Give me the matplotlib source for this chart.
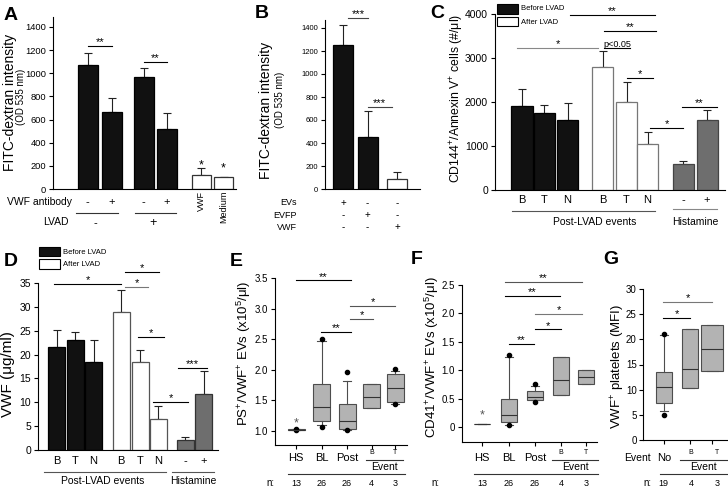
import numpy as np
import matplotlib

matplotlib.use("Agg")
import matplotlib.pyplot as plt
from matplotlib.lines import Line2D
from matplotlib.patches import Rectangle

plt.rcParams["font.family"] = ["Liberation Sans", "DejaVu Sans"]
plt.rcParams["mathtext.fontset"] = "custom"
plt.rcParams["mathtext.rm"] = "Liberation Sans"
plt.rcParams["mathtext.it"] = "Liberation Sans:italic"
plt.rcParams["mathtext.bf"] = "Liberation Sans:bold"
plt.rcParams["axes.linewidth"] = 0.8

# ---------- data ----------
# A: FITC-dextran, VWF antibody -/+ for LVAD -/+, then VWF and medium
a_mean = [1075, 665, 965, 520, 120, 100]
a_err = [100, 125, 85, 135, 60, 0]

# B: EVs / EVFP / VWF
b_mean = [1255, 450, 85]
b_err = [175, 230, 60]

# C: CD144+/Annexin V+ cells
c_events = ["B", "T", "N"]
c_before = [1900, 1750, 1590]
c_before_err = [390, 180, 385]
c_after = [2790, 2000, 1040]
c_after_err = [370, 450, 270]
c_hist = [590, 1600]
c_hist_err = [60, 210]

# D: VWF (ug/ml)
d_before = [21.5, 23.0, 18.4]
d_before_err = [3.6, 1.7, 4.7]
d_after = [29.0, 18.4, 6.6]
d_after_err = [4.5, 2.6, 2.6]
d_hist = [2.0, 11.8]
d_hist_err = [0.7, 4.8]

# E: PS+/VWF+ EVs  (HS, BL, Post, Event B, Event T)
e_groups = ["HS", "BL", "Post", "B", "T"]
e_n = [13, 26, 26, 4, 3]
e_med = [1.02, 1.40, 1.17, 1.55, 1.71]
e_q1 = [1.015, 1.17, 1.03, 1.37, 1.48]
e_q3 = [1.03, 1.76, 1.44, 1.76, 1.93]
e_lo = [1.015, 1.10, 1.01, 1.37, 1.44]
e_hi = [1.03, 2.47, 1.82, 1.76, 1.98]
e_fliers = [[1.03, 1.01], [2.50, 1.07], [1.97, 1.01], [], [2.01, 1.44]]

# F: CD41+/VWF+ EVs
f_groups = ["HS", "BL", "Post", "B", "T"]
f_n = [13, 26, 26, 4, 3]
f_med = [0.05, 0.22, 0.53, 0.82, 0.88]
f_q1 = [0.05, 0.08, 0.48, 0.57, 0.76]
f_q3 = [0.05, 0.50, 0.64, 1.24, 1.00]
f_lo = [0.05, 0.04, 0.47, 0.57, 0.76]
f_hi = [0.05, 1.23, 0.72, 1.24, 1.00]
f_fliers = [[], [1.27, 0.03], [0.76, 0.44], [], []]

# G: VWF+ platelets (MFI)
g_groups = ["No", "B", "T"]
g_n = [19, 4, 3]
g_med = [10.6, 14.2, 18.0]
g_q1 = [7.4, 10.4, 13.8]
g_q3 = [13.6, 22.1, 22.9]
g_lo = [5.8, 10.4, 13.8]
g_hi = [20.8, 22.1, 22.9]
g_fliers = [[21.0, 4.9], [], []]

# ---------- layout helpers (pixel coords, origin top-left) ----------
W, H = 728, 488
fig = plt.figure(figsize=(W / 100, H / 100), dpi=100)

BLACK = "#111111"
GREY_BAR = "#6e6e6e"
BOX = "#b3b3b3"
EDGE = "#4d4d4d"


def add_ax(x0, x1, ytop, ybot, yref_lo, vref_lo, yref_hi, vref_hi):
    scale = (yref_lo - yref_hi) / (vref_hi - vref_lo)
    vbot = vref_lo - (ybot - yref_lo) / scale
    vtop = vref_hi + (yref_hi - ytop) / scale
    ax = fig.add_axes([x0 / W, 1 - ybot / H, (x1 - x0) / W, (ybot - ytop) / H])
    ax.set_xlim(x0, x1)
    ax.set_ylim(vbot, vtop)
    ax.spines["top"].set_visible(False)
    ax.spines["right"].set_visible(False)
    ax.patch.set_alpha(0)
    ax.tick_params(axis="y", direction="out", length=3, width=0.8, pad=2)
    return ax


def ftext(x, y, s, size=8, ha="center", va="center", **kw):
    fig.text(x / W, 1 - y / H, s, fontsize=size, ha=ha, va=va, **kw)


def fline(x0, x1, y, color="#333333", lw=0.8):
    fig.add_artist(Line2D([x0 / W, x1 / W], [1 - y / H] * 2, color=color, lw=lw))


def frect(x0, y0, x1, y1, fc):
    fig.add_artist(Rectangle((x0 / W, 1 - y1 / H), (x1 - x0) / W, (y1 - y0) / H,
                             transform=fig.transFigure, facecolor=fc,
                             edgecolor="k", lw=0.8))


def sig(ax, x0, x1, y, label, color="k", size=8):
    ax.plot([x0, x1], [y, y], color=color, lw=0.8, clip_on=False)
    ax.annotate(label, ((x0 + x1) / 2, y), xytext=(0, -1), textcoords="offset points",
                ha="center", va="bottom", fontsize=size, annotation_clip=False)


def bars(ax, pos, vals, errs, width, fc, ec):
    ax.errorbar(pos, vals, yerr=[np.zeros(len(errs)), errs], fmt="none",
                ecolor="#222222", elinewidth=0.8, capsize=3, capthick=0.8, zorder=1)
    ax.bar(pos, vals, width=width, color=fc, edgecolor=ec, lw=0.9, zorder=2)


def boxes(ax, pos, widths, med, q1, q3, lo, hi, fliers):
    stats = [dict(med=m, q1=a, q3=b, whislo=l, whishi=h, fliers=f)
             for m, a, b, l, h, f in zip(med, q1, q3, lo, hi, fliers)]
    ax.bxp(stats, positions=pos, widths=widths, capwidths=[w * 0.5 for w in widths],
           patch_artist=True, manage_ticks=False,
           boxprops=dict(facecolor=BOX, edgecolor=EDGE, lw=0.8),
           medianprops=dict(color="#333333", lw=0.8),
           whiskerprops=dict(color=EDGE, lw=0.8),
           capprops=dict(color=EDGE, lw=0.8),
           flierprops=dict(marker="o", markerfacecolor="k", markeredgecolor="k",
                           markersize=3, linestyle="none"))
    ax.set_xticks(pos)
    ax.set_xticklabels([])
    ax.tick_params(axis="x", direction="out", length=3, width=0.8)


# ---------- A ----------
axA = add_ax(53, 236, 17, 189, 189, 0, 27, 1400)
a_pos = [87.5, 112, 143.5, 167, 201, 223.5]
bars(axA, a_pos[:4], a_mean[:4], a_err[:4], 20, BLACK, "k")
bars(axA, a_pos[4:], a_mean[4:], a_err[4:], 19, "white", "#333333")
axA.set_xticks([])
axA.set_yticks(range(0, 1401, 200))
axA.tick_params(axis="y", labelsize=6.7)
sig(axA, a_pos[0], a_pos[1], 1236, "**")
sig(axA, a_pos[2], a_pos[3], 1097, "**")
axA.text(a_pos[4], 205, "*", ha="center", va="center", fontsize=9)
axA.text(a_pos[5], 180, "*", ha="center", va="center", fontsize=9)
ftext(10, 102, "FITC-dextran intensity", size=10, rotation=90)
ftext(21.5, 97, "(OD 535 nm)", size=7, rotation=90)
ftext(72, 202, "VWF antibody", size=7.5, ha="right")
for x, s in zip(a_pos[:4], ["-", "+", "-", "+"]):
    ftext(x, 202, s, size=8)
fline(76, 118, 213)
fline(135, 176, 213)
ftext(69, 222, "LVAD", size=7.5, ha="right")
ftext(95, 223, "-", size=8)
ftext(153, 223, "+", size=9)
ftext(a_pos[4], 191, "VWF", size=6.5, rotation=90, va="top")
ftext(a_pos[5], 191, "Medium", size=6.5, rotation=90, va="top")

# ---------- B ----------
axB = add_ax(325, 420, 20, 189, 189, 0, 28, 1400)
b_pos = [343, 367.5, 397]
bars(axB, b_pos[:2], b_mean[:2], b_err[:2], 20, BLACK, "k")
bars(axB, b_pos[2:], b_mean[2:], b_err[2:], 20, "white", "#333333")
axB.set_xticks([])
axB.set_yticks(range(0, 1401, 200))
axB.tick_params(axis="y", labelsize=5.5)
sig(axB, 348, 368, 1490, "***", color="#444444")
sig(axB, 367.5, 392, 713, "***", color="#444444")
ftext(266, 110, "FITC-dextran intensity", size=10, rotation=90)
ftext(280, 100, "(OD 535 nm)", size=7, rotation=90)
rows = [("EVs", ["+", "-", "-"], 203), ("EVFP", ["-", "+", "-"], 215),
        ("VWF", ["-", "-", "+"], 227)]
for name, signs, y in rows:
    ftext(297, y, name, size=6.5, ha="right")
    for x, s in zip(b_pos, signs):
        ftext(x, y, s, size=7)

# ---------- C ----------
axC = add_ax(495, 725, 14, 190, 190, 0, 14, 4000)
c_pos_b = [522, 544, 567.5]
c_pos_a = [602.5, 626.5, 647.5]
c_pos_h = [683, 707]
bars(axC, c_pos_b, c_before, c_before_err, 21, BLACK, "k")
bars(axC, c_pos_a, c_after, c_after_err, 21, "white", "#777777")
bars(axC, c_pos_h, c_hist, c_hist_err, 21, GREY_BAR, "#444444")
axC.set_xticks([])
axC.set_yticks(range(0, 4001, 1000))
axC.tick_params(axis="y", labelsize=7.5)
sig(axC, 517, 598, 3227, "*", color="#888888")
sig(axC, 570, 655, 3977, "**")
sig(axC, 604, 656, 3614, "**")
sig(axC, 604, 630, 3227, "p<0.05", size=6.5)
sig(axC, 627, 653, 2545, "*")
sig(axC, 650, 683, 1409, "*")
sig(axC, 682, 717, 1886, "**")
ftext(457, 98, "CD144$^{+}$/Annexin V$^{+}$ cells (#/μl)", size=8.8, rotation=90)
for x, s in zip(c_pos_b + c_pos_a, c_events + c_events):
    ftext(x, 200, s, size=8)
for x, s in zip(c_pos_h, ["-", "+"]):
    ftext(x, 200, s, size=8)
fline(512, 655, 211, color="#555555")
fline(673, 717, 209, color="#888888")
ftext(595, 222, "Post-LVAD events", size=7.5)
ftext(695, 222, "Histamine", size=7.5)
frect(497, 4, 518, 14, BLACK)
frect(497, 17, 518, 26, "white")
ftext(521, 9, "Before LVAD", size=5.5, ha="left")
ftext(521, 22, "After LVAD", size=5.5, ha="left")

# ---------- D ----------
axD = add_ax(38, 218, 283, 450, 450, 0, 283, 35)
d_pos_b = [56.5, 75, 93.5]
d_pos_a = [121, 140, 158]
d_pos_h = [185, 203.5]
bars(axD, d_pos_b, d_before, d_before_err, 17, BLACK, "k")
bars(axD, d_pos_a, d_after, d_after_err, 17, "white", "#555555")
bars(axD, d_pos_h, d_hist, d_hist_err, 17, GREY_BAR, "#333333")
axD.set_xticks([])
axD.set_yticks(range(0, 36, 5))
axD.tick_params(axis="y", labelsize=7.5)
sig(axD, 54, 121, 34.8, "*")
sig(axD, 125, 159, 37.3, "*")
sig(axD, 125, 148, 34.2, "*", color="#777777")
sig(axD, 138, 164, 23.7, "*")
sig(axD, 153, 188, 10.1, "*")
sig(axD, 178, 207, 17.2, "***")
ftext(8, 374, "VWF (μg/ml)", size=11, rotation=90)
for x, s in zip(d_pos_b + d_pos_a, c_events + c_events):
    ftext(x, 461, s, size=8)
for x, s in zip(d_pos_h, ["-", "+"]):
    ftext(x, 461, s, size=8)
fline(44, 166, 472, color="#555555")
fline(172, 214, 472, color="#555555")
ftext(103, 481, "Post-LVAD events", size=7.5)
ftext(193, 481, "Histamine", size=7.5)
frect(39, 247, 60, 256, BLACK)
frect(39, 259, 60, 269, "white")
ftext(63, 252, "Before LVAD", size=5.5, ha="left")
ftext(63, 264, "After LVAD", size=5.5, ha="left")


def event_labels(pos, groups, n, n_x, event_lo, event_hi, long_lo, long_hi):
    for x, g in zip(pos[:-2], groups[:-2]):
        ftext(x, 458, g, size=8)
    for x, g in zip(pos[-2:], groups[-2:]):
        ftext(x, 453, g, size=5)
    fline(event_lo, event_hi, 460, color="#333333")
    ftext((event_lo + event_hi) / 2, 467, "Event", size=7.5)
    fline(long_lo, long_hi, 474, color="#333333")
    ftext(n_x, 483, "n:", size=7)
    for x, v in zip(pos, n):
        ftext(x, 483, str(v), size=6.5)


# ---------- E ----------
axE = add_ax(275, 407, 278, 445, 431, 1.0, 278, 3.5)
e_pos = [296, 321.5, 347, 371.5, 395]
boxes(axE, e_pos, [17] * 5, e_med, e_q1, e_q3, e_lo, e_hi, e_fliers)
axE.set_yticks(np.arange(1.0, 3.51, 0.5))
axE.set_yticklabels([f"{v:.1f}" for v in np.arange(1.0, 3.51, 0.5)])
axE.tick_params(axis="y", labelsize=7)
sig(axE, 296, 351, 3.46, "**")
sig(axE, 321, 351, 2.62, "**")
sig(axE, 350, 373, 2.83, "*", color="#555555")
sig(axE, 350, 395, 3.05, "*", color="#555555")
axE.text(e_pos[0], 1.13, "*", ha="center", va="center", fontsize=9, color="#555555")
ftext(244, 353, "PS$^{+}$/VWF$^{+}$ EVs (x10$^{5}$/μl)", size=9.5, rotation=90)
event_labels(e_pos, e_groups, e_n, 270, 366, 403, 288, 405)

# ---------- F ----------
axF = add_ax(462, 597, 285, 442, 427, 0.0, 285, 2.5)
f_pos = [482, 509, 535, 561, 586]
boxes(axF, f_pos, [16] * 5, f_med, f_q1, f_q3, f_lo, f_hi, f_fliers)
axF.set_yticks(np.arange(0, 2.51, 0.5))
axF.set_yticklabels(["0"] + [f"{v:.1f}" for v in np.arange(0.5, 2.51, 0.5)])
axF.tick_params(axis="y", labelsize=7)
sig(axF, 505, 582, 2.55, "**", color="#555555")
sig(axF, 505, 560, 2.31, "**")
sig(axF, 535, 582, 1.99, "*", color="#777777")
sig(axF, 535, 561, 1.72, "*")
sig(axF, 509, 534, 1.46, "**")
axF.text(f_pos[0], 0.2, "*", ha="center", va="center", fontsize=9, color="#555555")
ftext(432, 357, "CD41$^{+}$/VWF$^{+}$ EVs (x10$^{5}$/μl)", size=9.5, rotation=90)
event_labels(f_pos, f_groups, f_n, 435, 552, 598, 474, 598)

# ---------- G ----------
axG = add_ax(643, 727, 289, 440, 440, 0, 289, 30)
g_pos = [664, 690, 712]
boxes(axG, g_pos, [16, 16, 22], g_med, g_q1, g_q3, g_lo, g_hi, g_fliers)
axG.set_yticks(range(0, 31, 5))
axG.tick_params(axis="y", labelsize=7, pad=1.5)
sig(axG, 663, 690, 24.3, "*")
sig(axG, 663, 712, 27.4, "*", color="#777777")
ftext(618, 367, "VWF$^{+}$ platelets (MFI)", size=9.5, rotation=90)
ftext(637, 458, "Event", size=7.5)
ftext(g_pos[0], 458, g_groups[0], size=8)
for x, g in zip([691, 717], g_groups[1:]):
    ftext(x, 453, g, size=5)
fline(680, 727, 460)
ftext(703, 467, "Event", size=7.5)
fline(660, 727, 474)
ftext(647, 483, "n:", size=7)
for x, v in zip([663, 691, 717], g_n):
    ftext(x, 483, str(v), size=6.5)

# ---------- panel letters ----------
for x, y, s in [(11, 16, "A"), (262, 13, "B"), (437, 13, "C"), (11, 261, "D"),
                (236, 261, "E"), (417, 259, "F"), (611, 259, "G")]:
    ftext(x, y, s, size=14, weight="bold")

fig.savefig("out.png", dpi=100, facecolor="white")
